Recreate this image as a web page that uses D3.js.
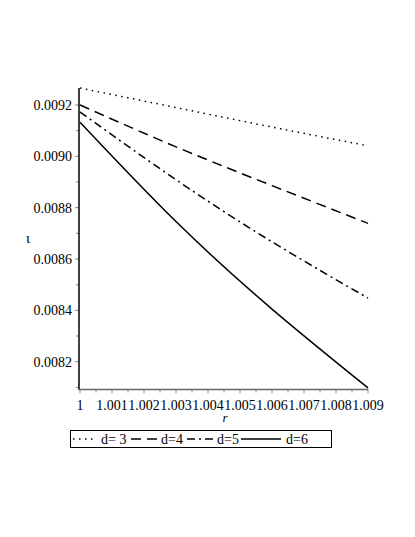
<!DOCTYPE html>
<html>
<head>
<meta charset="utf-8">
<script src="https://cdn.jsdelivr.net/npm/d3@7"></script>
<style>
  body { margin: 0; background: #fff; }
</style>
</head>
<body>
<div id="chart"></div>
<script>
    var w = 415,
        h = 537;

    var rValues = [1, 1.003, 1.006, 1.009];
    var seriesNames = ["d= 3", "d=4", "d=5", "d=6"];
    var d3Values = [0.009266, 0.00919, 0.009114, 0.009041];
    var d4Values = [0.0092, 0.009037, 0.008886, 0.008739];
    var d5Values = [0.009173, 0.008909, 0.008667, 0.008448];
    var d6Values = [0.009133, 0.008746, 0.008405, 0.008098];
    var xTicks = [1, 1.001, 1.002, 1.003, 1.004, 1.005, 1.006, 1.007, 1.008, 1.009];
    var yTicks = [0.0082, 0.0084, 0.0086, 0.0088, 0.0090, 0.0092];

    var allSeries = [d3Values, d4Values, d5Values, d6Values];
    var dashes = ["1.5,4.5", "10,6", "8,4,2,4", null];
    var serif = "'Liberation Serif'";

    var x = d3.scaleLinear().domain([1, 1.009]).range([80, 368]);
    var y = d3.scaleLinear().domain([0.0082, 0.0092]).range([361.7, 105]);
    var yBottom = 389.5, yTop = 88;

    var svg = d3.select("#chart").append("svg")
        .attr("width", w)
        .attr("height", h)
        .style("font-family", serif);

    // minor ticks
    var xMinor = d3.range(0, 19).map(function (i) { return 1 + i * 0.0005; });
    svg.selectAll("line.xminor")
        .data(xMinor)
        .enter().append("line")
        .attr("x1", function (d) { return x(d); })
        .attr("x2", function (d) { return x(d); })
        .attr("y1", yBottom)
        .attr("y2", function (d, i) { return yBottom + (i % 2 ? 3 : 4); })
        .style("stroke", "#888")
        .style("stroke-width", "1px");

    var yMinor = d3.range(0, 12).map(function (i) { return 0.0081 + i * 0.0001; });
    svg.selectAll("line.yminor")
        .data(yMinor)
        .enter().append("line")
        .attr("x1", 79)
        .attr("x2", function (d, i) { return i % 2 ? 75 : 76; })
        .attr("y1", function (d) { return y(d); })
        .attr("y2", function (d) { return y(d); })
        .style("stroke", "#888")
        .style("stroke-width", "1px");

    // axes lines
    svg.append("line")
        .attr("x1", 79).attr("x2", 79)
        .attr("y1", yTop).attr("y2", yBottom + 0.5)
        .style("stroke", "#000")
        .style("stroke-width", "1.5px");
    svg.append("line")
        .attr("x1", 78.5).attr("x2", x(1.009))
        .attr("y1", yBottom).attr("y2", yBottom)
        .style("stroke", "#666")
        .style("stroke-width", "1.5px");

    // tick labels
    svg.selectAll("text.xlab")
        .data(xTicks)
        .enter().append("text")
        .attr("x", function (d) { return x(d); })
        .attr("y", 410)
        .attr("text-anchor", "middle")
        .style("font-family", serif)
        .style("font-size", "14px")
        .text(function (d) { return d === 1 ? "1" : d3.format(".3f")(d); });

    svg.selectAll("text.ylab")
        .data(yTicks)
        .enter().append("text")
        .attr("x", 72)
        .attr("y", function (d) { return y(d) + 5; })
        .attr("text-anchor", "end")
        .style("font-family", serif)
        .style("font-size", "14px")
        .text(function (d) { return d3.format(".4f")(d); });

    svg.append("text")
        .attr("x", 225).attr("y", 422)
        .attr("text-anchor", "middle")
        .style("font-family", serif)
        .style("font-size", "13px")
        .style("font-style", "italic")
        .text("r");

    svg.append("text")
        .attr("x", 28).attr("y", 243)
        .attr("text-anchor", "middle")
        .style("font-family", serif)
        .style("font-size", "15px")
        .text("ι");

    // curves
    var line = d3.line()
        .x(function (d, i) { return x(rValues[i]); })
        .y(function (d) { return y(d); })
        .curve(d3.curveNatural);

    svg.selectAll("path.series")
        .data(allSeries)
        .enter().append("path")
        .attr("d", function (d) { return line(d); })
        .style("fill", "none")
        .style("stroke", "#000")
        .style("stroke-width", "1.5px")
        .style("stroke-dasharray", function (d, i) { return dashes[i]; });

    // legend
    var lg = svg.append("g");
    lg.append("rect")
        .attr("x", 70.5).attr("y", 430.5)
        .attr("width", 261).attr("height", 17)
        .style("fill", "none")
        .style("stroke", "#000")
        .style("stroke-width", "1px");

    var legendItems = [
        { x0: 73, x1: 97, tx: 101 },
        { x0: 131, x1: 157, tx: 161 },
        { x0: 187, x1: 213, tx: 217 },
        { x0: 241, x1: 281, tx: 286 }
    ];
    legendItems.forEach(function (it, i) {
        lg.append("line")
            .attr("x1", it.x0).attr("x2", it.x1)
            .attr("y1", 439).attr("y2", 439)
            .style("stroke", "#000")
            .style("stroke-width", "1.5px")
            .style("stroke-dasharray", dashes[i]);
        lg.append("text")
            .attr("x", it.tx).attr("y", 444)
            .style("font-family", serif)
            .style("font-size", "14px")
            .text(seriesNames[i]);
    });
</script>
</body>
</html>
